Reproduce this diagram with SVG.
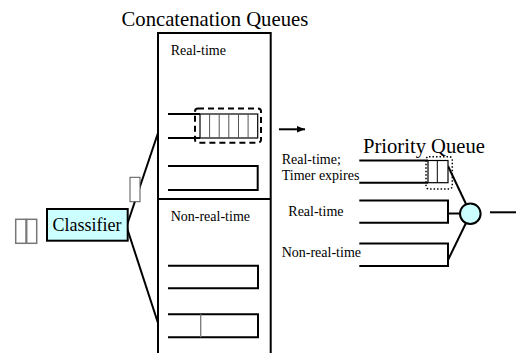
<svg xmlns="http://www.w3.org/2000/svg" width="516" height="353" viewBox="0 0 516 353">
<defs>
<style>
text{font-family:'Liberation Serif','Times New Roman',serif;fill:#000}
.s14{font-size:14px}
.q{fill:none;stroke:#000;stroke-width:2}
.ln{stroke:#000;stroke-width:2;fill:none}
.cell{fill:#fff;stroke:#000;stroke-width:1.2}
.div{stroke:#555;stroke-width:1}
.cy{fill:#ccffff;stroke:#000;stroke-width:2}
</style>
<marker id="ah" viewBox="0 0 10 10" refX="10" refY="5" markerWidth="4" markerHeight="4" orient="auto" markerUnits="strokeWidth">
<path d="M0,1 L10,5 L0,9 z" fill="#000"/>
</marker>
</defs>
<rect width="516" height="353" fill="#fff"/>

<text x="121.5" y="26" font-size="20.7">Concatenation Queues</text>

<g id="connectors">
<line class="ln" x1="127" y1="225" x2="158" y2="133"/>
<line class="ln" x1="127" y1="228" x2="158" y2="323"/>
<line class="ln" x1="279" y1="129.3" x2="305" y2="129.3" marker-end="url(#ah)"/>
<line class="ln" x1="448" y1="166" x2="466" y2="204"/>
<line class="ln" x1="448" y1="213.5" x2="460" y2="213.5"/>
<line class="ln" x1="448" y1="260" x2="466" y2="223"/>
<line class="ln" x1="490" y1="212.3" x2="516" y2="212.3"/>
</g>

<g id="input-packets">
<rect x="15.7" y="219.3" width="10.3" height="24" fill="#fff" stroke="#777" stroke-width="1.5"/>
<rect x="26.7" y="219.3" width="10" height="24" fill="#fff" stroke="#777" stroke-width="1.5"/>
</g>

<g id="classifier">
<rect class="cy" x="47" y="209" width="80.7" height="31.7"/>
<text x="87" y="231" font-size="18" text-anchor="middle">Classifier</text>
</g>

<g id="packet-on-link">
<rect x="130" y="177.3" width="10" height="24.4" fill="#fff" stroke="#555" stroke-width="1"/>
</g>

<g id="concatenation-queues">
<rect x="158" y="33" width="112.7" height="330" fill="none" stroke="#000" stroke-width="2"/>
<line class="ln" x1="158" y1="199" x2="271" y2="199"/>
<text class="s14" x="170.7" y="55">Real-time</text>
<text class="s14" x="170.7" y="221">Non-real-time</text>
</g>

<g id="rt-queue-1">
<path class="q" d="M168 114 H200 M168 138 H200"/>
<rect class="cell" x="200" y="114" width="57.7" height="24"/>
<path class="div" d="M209.6 114 V138 M219.2 114 V138 M228.8 114 V138 M238.5 114 V138 M248.1 114 V138"/>
<rect x="195" y="108.5" width="66" height="34.2" rx="3" fill="none" stroke="#000" stroke-width="2" stroke-dasharray="6 4"/>
</g>

<g id="rt-queue-2">
<path class="q" d="M168 166 H257.7 V190 H168"/>
</g>

<g id="nrt-queue-1">
<path class="q" d="M168 265.7 H258 V288.3 H168"/>
</g>

<g id="nrt-queue-2">
<path class="q" d="M168 314.3 H258 V337.3 H168"/>
<line x1="200.7" y1="314.3" x2="200.7" y2="337.3" stroke="#777" stroke-width="1.3"/>
</g>

<text x="363" y="153" font-size="20.6">Priority Queue</text>

<g id="pq-timer">
<text class="s14" x="281.7" y="164">Real-time;</text>
<text class="s14" x="281.7" y="180">Timer expires</text>
<path class="q" d="M359.3 160.5 H428 M359.3 182.7 H428"/>
<rect class="cell" x="428" y="160.5" width="20" height="22.2"/>
<line x1="437.3" y1="160.5" x2="437.3" y2="182.7" stroke="#000" stroke-width="1"/>
<rect x="426" y="156.7" width="26.3" height="32.3" rx="3" fill="none" stroke="#000" stroke-width="1.5" stroke-dasharray="1.5 2"/>
</g>

<g id="pq-realtime">
<text class="s14" x="288.3" y="216">Real-time</text>
<path class="q" d="M359.3 200.5 H448 V222.7 H359.3"/>
</g>

<g id="pq-nonrealtime">
<text class="s14" x="281.7" y="256.7">Non-real-time</text>
<path class="q" d="M359.3 243.5 H448 V266 H359.3"/>
</g>

<g id="scheduler">
<circle class="cy" cx="470.3" cy="213.7" r="10.3"/>
</g>
</svg>
